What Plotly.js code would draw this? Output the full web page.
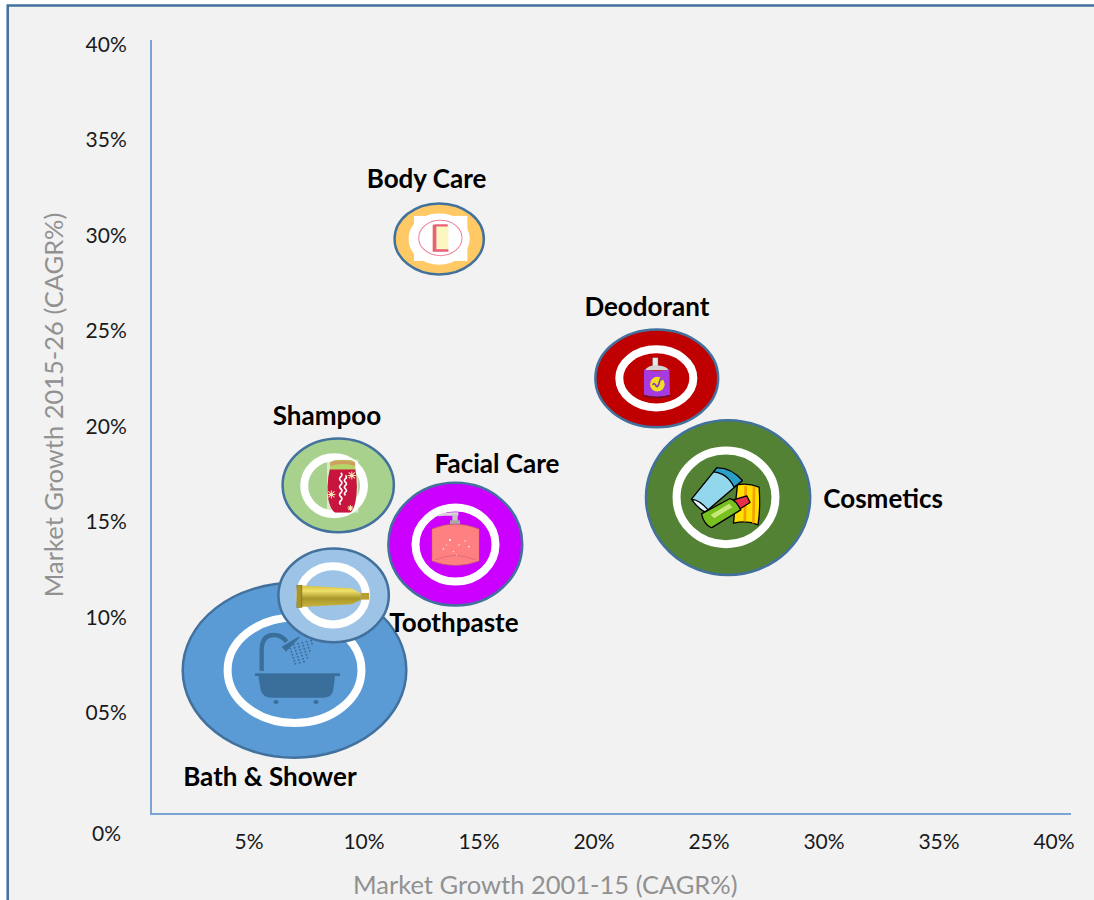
<!DOCTYPE html>
<html><head><meta charset="utf-8">
<script src="https://cdn.plot.ly/plotly-3.0.1.min.js"></script>
<style>html,body{margin:0;padding:0;background:#fff}#c{width:1094px;height:900px}</style>
</head><body><div id="c"></div>
<script>
// ---- data (in % CAGR) ----
const categories = ['Bath & Shower','Toothpaste','Shampoo','Facial Care','Body Care','Deodorant','Cosmetics'];
const growthX    = [6.98, 8.68, 8.88, 13.97, 13.27, 22.73, 25.83];
const growthY    = [7.24, 11.16, 16.92, 13.84, 29.82, 22.52, 16.28];
const radiusX    = [4.86, 2.40, 2.42, 2.91, 1.94, 2.67, 3.57];
const radiusY    = [4.58, 2.45, 2.45, 3.21, 1.86, 2.56, 4.05];
const ringX      = [6.98, 8.65, 8.70, 13.98, null, 22.71, 25.74];
const ringY      = [7.24, 11.16, 16.90, 13.82, null, 22.52, 16.29];
const ringRadiusX= [2.91, 1.44, 1.30, 1.74, null, 1.61, 2.15];
const ringRadiusY= [2.76, 1.52, 1.49, 1.94, null, 1.52, 2.45];
const colors     = ['#5b9bd5','#9dc3e6','#a9d18e','#cc00ff','#ffc966','#c00000','#548235'];
const labelX     = [5.91, 13.91, 8.39, 15.78, 12.72, 22.30, 32.57];
const labelY     = [1.50, 9.56, 20.40, 17.89, 32.81, 26.11, 16.05];
const iconX      = [7.11, 8.65, 9.07, 13.98, 13.27, 22.74, 25.73];
const iconY      = [7.34, 11.11, 16.88, 14.12, 29.81, 22.52, 16.29];
const iconW      = [3.84, 3.17, 1.38, 2.07, 2.68, 1.19, 3.04];
const iconH      = [3.84, 1.19, 2.79, 2.84, 2.71, 2.18, 3.23];
const tickValues = [5,10,15,20,25,30,35,40];
const xTickText  = ['5%','10%','15%','20%','25%','30%','35%','40%'];
const yTickText  = ['05%','10%','15%','20%','25%','30%','35%','40%'];

// ---- small pictures inside the bubbles ----
function dots(){let s='';for(let r=0;r<7;r++){for(let c=0;c<6-Math.floor(r/2);c++){
  s+=`<circle cx="${108+c*13+r*3}" cy="${42+r*9+c*-3}" r="3"/>`;}}return s;}
const bathSvg=`<svg xmlns="http://www.w3.org/2000/svg" width="265" height="220" viewBox="0 0 265 220"><g fill="#3a6f9c"><rect x="5" y="125" width="255" height="8"/><path d="M15 133H245L240 175Q235 198 210 198H55Q28 198 22 175Z"/><ellipse cx="68" cy="211" rx="8" ry="6"/><ellipse cx="188" cy="211" rx="8" ry="6"/><path d="M25 118V55Q25 10 62 10Q84 10 100 30" fill="none" stroke="#3a6f9c" stroke-width="13"/><path d="M85 45L135 15H141L98 60Z"/>${dots()}</g></svg>`;
const shampooSvg=`<svg xmlns="http://www.w3.org/2000/svg" width="95" height="160" viewBox="0 0 95 160"><rect width="95" height="160" fill="#fff" opacity=".55"/><path d="M10 26H85Q95 80 86 128Q80 155 70 160H25Q12 152 5 120Q-2 70 10 26Z" fill="#c8153e"/><path d="M10 28Q8 2 28 1H70Q88 2 85 28Z" fill="#b5d56a"/><path d="M10 20Q48 8 85 20V8Q48-3 10 8Z" fill="#d0a060"/><path d="M10 20Q48 30 85 20V30H10Z" fill="#b5d56a"/><g stroke="#fff" stroke-width="5" fill="none"><path d="M42 40q7 6 0 12t0 12 0 12 0 12 0 12 0 12 0 12 0 12"/><path d="M56 48q6 6 0 10t0 10 0 10 0 10 0 10 0 10"/></g><g stroke="#f6e6b0" stroke-width="3"><path d="M63 48h24M75 36v24M66 39l18 18M84 39l-18 18"/><path d="M2 105h24M14 93v24M5 96l18 18M23 96l-18 18"/><path d="M62 146h18M71 137v18M65 140l12 12M77 140l-12 12"/></g></svg>`;
const toothSvg=`<svg xmlns="http://www.w3.org/2000/svg" width="218" height="68" viewBox="0 0 218 68"><defs><linearGradient id="g" x1="0" y1="0" x2="0" y2="1"><stop offset="0" stop-color="#d8c040"/><stop offset=".25" stop-color="#efe26a"/><stop offset=".6" stop-color="#a8962a"/><stop offset="1" stop-color="#c9b43a"/></linearGradient></defs><path d="M14 2L165 10L192 25V45L165 58L14 66Z" fill="url(#g)"/><rect x="0" y="0" width="16" height="68" fill="#a8942a" stroke="#7a6a18" stroke-width="2"/><rect x="192" y="24" width="26" height="20" fill="#b8a030"/></svg>`;
const soapSvg=`<svg xmlns="http://www.w3.org/2000/svg" width="143" height="163" viewBox="0 0 143 163"><path d="M18 10Q40 0 80 2V12H40Q28 12 18 14Z" fill="#d8d8d8"/><rect x="62" y="8" width="16" height="20" fill="#c4c4c4"/><rect x="55" y="26" width="30" height="26" fill="#a8a8a8"/><path d="M0 52Q70 22 143 52V148Q70 176 0 148Z" fill="#ff8080" stroke="#a84a70" stroke-width="2"/><path d="M0 52Q70 78 143 52" fill="none" stroke="#ff8080"/><path d="M10 145Q70 118 133 145" fill="none" stroke="#d06080" stroke-width="2"/><g fill="#fff"><circle cx="55" cy="85" r="3"/><circle cx="82" cy="100" r="2"/><circle cx="35" cy="112" r="2.5"/><circle cx="65" cy="120" r="2"/><circle cx="112" cy="105" r="2.5"/><circle cx="45" cy="100" r="1.5"/><circle cx="100" cy="88" r="2"/><circle cx="75" cy="130" r="1.5"/></g></svg>`;
const bodySvg=`<svg xmlns="http://www.w3.org/2000/svg" width="185" height="155" viewBox="0 0 185 155"><g fill="#fff"><rect x="17" y="8" width="160" height="135"/><ellipse cx="92" cy="77" rx="92" ry="77"/></g><ellipse cx="96" cy="74" rx="65" ry="53" fill="none" stroke="#f08098" stroke-width="3"/><rect x="73" y="35" width="47" height="80" fill="#fbf7c0"/><path d="M73 115V35Q75 33 84 33H118V40H84V108H120V115Z" fill="#e8607a"/></svg>`;
const deoSvg=`<svg xmlns="http://www.w3.org/2000/svg" width="82" height="125" viewBox="0 0 82 125"><rect x="28" y="0" width="16" height="26" fill="#e8e8e8" stroke="#777" stroke-width="1.5"/><path d="M5 38Q14 22 40 24Q68 24 76 38Z" fill="#d4d4d4"/><path d="M2 36Q40 46 78 36L80 112Q40 124 2 112Z" fill="#a53be0"/><path d="M2 112Q40 124 80 112V117Q40 128 2 117Z" fill="#6a1030"/><circle cx="42" cy="80" r="22" fill="#f0e020"/><path d="M28 82q5-8 10 2t10-10 8-6" fill="none" stroke="#8a3cc0" stroke-width="5"/></svg>`;
const cosmeticSvg=`<svg xmlns="http://www.w3.org/2000/svg" width="210" height="185" viewBox="0 0 210 185"><g stroke="#000" stroke-width="4" stroke-linejoin="round"><path d="M140 55Q170 48 205 62Q210 120 202 175Q170 160 128 170Z" fill="#ffe000"/><path d="M165 58L162 165M190 60L188 170" stroke="#f5a000" stroke-width="8" fill="none"/><path d="M2 98L78 4L155 42L52 130Q20 120 2 98Z" fill="#92d7ec"/><path d="M78 4Q120 2 155 42L130 62Q110 20 68 16Z" fill="#2aa0c8"/><path d="M2 98Q25 100 52 130L42 136Q20 125 2 98Z" fill="#dff3fa"/><path d="M128 100L168 88L178 108L146 128Z" fill="#e8304a"/><path d="M32 142L118 96Q135 100 150 130L62 184Q40 175 32 142Z" fill="#78c020"/><path d="M60 145L115 112L125 122L70 155Z" fill="#c8e878" stroke="none"/></g></svg>`;
const iconSvgs=[bathSvg,toothSvg,shampooSvg,soapSvg,bodySvg,deoSvg,cosmeticSvg];

// ---- build shapes, images, trace from the arrays ----
const ellipse=(cx,cy,rx,ry,extra)=>Object.assign({type:'circle',xref:'x',yref:'y',layer:'below',
  x0:cx-rx,x1:cx+rx,y0:cy-ry,y1:cy+ry},extra);
const shapes=[{type:'rect',xref:'paper',yref:'paper',layer:'below',x0:-0.157,x1:1.05,y0:-0.14,y1:1.0445,
  fillcolor:'#f2f2f2',line:{color:'#41719c',width:2.5}}];
categories.forEach((c,i)=>{
  shapes.push(ellipse(growthX[i],growthY[i],radiusX[i],radiusY[i],{fillcolor:colors[i],line:{color:'#41719c',width:2.5}}));
  if(ringX[i]!==null) shapes.push(ellipse(ringX[i],ringY[i],ringRadiusX[i],ringRadiusY[i],{fillcolor:'rgba(0,0,0,0)',line:{color:'#ffffff',width:8}}));
});
const images=categories.map((c,i)=>({source:'data:image/svg+xml,'+encodeURIComponent(iconSvgs[i]),
  xref:'x',yref:'y',x:iconX[i],y:iconY[i],sizex:iconW[i],sizey:iconH[i],sizing:'stretch',
  xanchor:'center',yanchor:'middle',layer:'above'}));

const font='Lato, "Open Sans", sans-serif';
const titleFont={family:font,size:25.5,color:'#919191'};
Plotly.newPlot('c',[{type:'scatter',mode:'text',x:labelX,y:labelY,text:categories,textposition:'middle center',
  textfont:{family:font,size:26,color:'#000',weight:700},hoverinfo:'skip',showlegend:false,cliponaxis:false}],{
  width:1094,height:900,showlegend:false,paper_bgcolor:'#ffffff',plot_bgcolor:'rgba(0,0,0,0)',
  margin:{l:152,r:23,t:40,b:87,pad:0},
  font:{family:font},
  xaxis:{range:[0.783,40.74],autorange:false,tickmode:'array',tickvals:tickValues,ticktext:xTickText,
    tickfont:{family:font,size:21,color:'#1a1a1a'},showgrid:false,zeroline:false,showline:true,linecolor:'#7ba4d4',linewidth:2,
    ticks:'',ticklabelstandoff:9},
  yaxis:{range:[-0.235,40.235],autorange:false,tickmode:'array',tickvals:tickValues,ticktext:yTickText,
    tickfont:{family:font,size:21,color:'#1a1a1a'},showgrid:false,zeroline:false,showline:true,linecolor:'#7ba4d4',linewidth:2,
    ticks:'',ticklabelstandoff:19},
  shapes:shapes,images:images,
  annotations:[
    {text:'0%',xref:'paper',yref:'paper',x:-0.05,y:-0.0246,xanchor:'center',yanchor:'middle',showarrow:false,
     font:{family:font,size:21,color:'#1a1a1a'}},
    {text:'Market Growth 2001-15 (CAGR%)',xref:'paper',yref:'paper',x:0.4277,y:-0.0919,xanchor:'center',yanchor:'middle',showarrow:false,font:titleFont},
    {text:'Market Growth 2015-26 (CAGR%)',xref:'paper',yref:'paper',x:-0.1075,y:0.5278,xanchor:'center',yanchor:'middle',textangle:-90,showarrow:false,font:titleFont}
  ]
},{displayModeBar:false,staticPlot:true});
</script></body></html>
